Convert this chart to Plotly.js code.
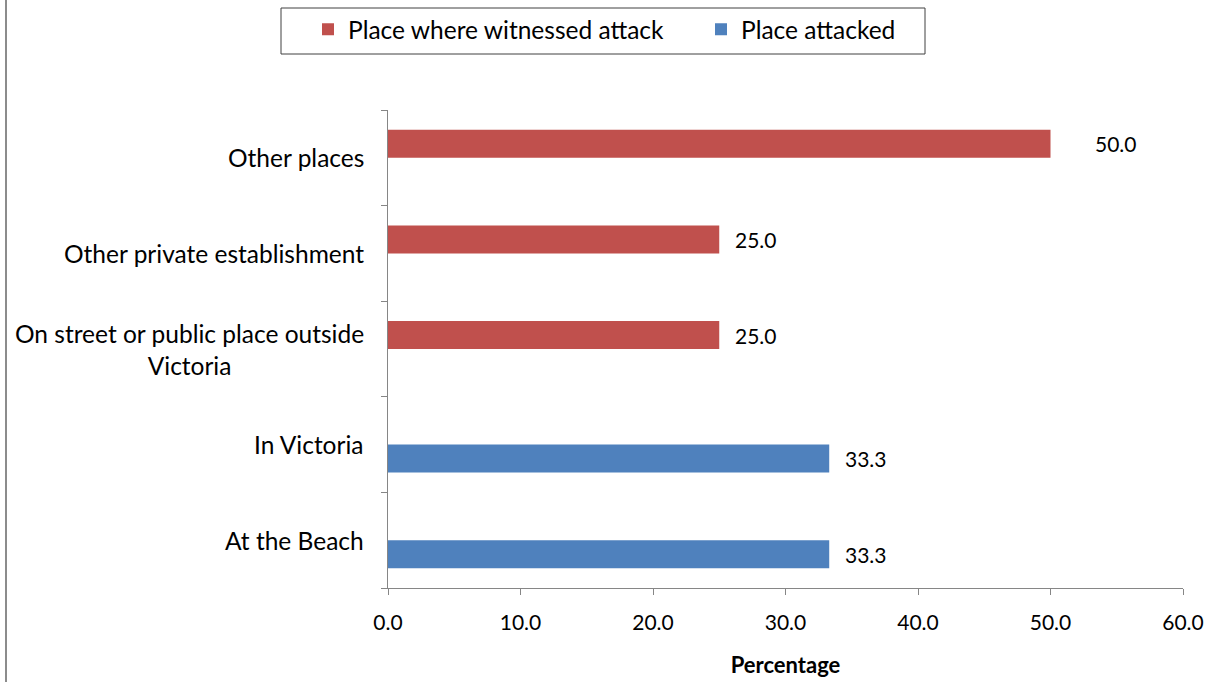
<!DOCTYPE html>
<html>
<head>
<meta charset="utf-8">
<script src="https://cdn.plot.ly/plotly-3.0.1.min.js"></script>
<style>
  html, body { margin: 0; padding: 0; background: #fff; }
  #wrap { position: relative; width: 1216px; height: 682px; }
  #frame { position: absolute; left: 5px; top: 0; width: 2px; height: 682px; background: #8c8c8c; z-index: 5; }
  #chart { width: 1216px; height: 682px; }
</style>
</head>
<body>
<div id="wrap"><div id="frame"></div><div id="chart"></div></div>
<script>
// Categories, bottom to top
const categories = ["At the Beach", "In Victoria", "On street or public place outside Victoria", "Other private establishment", "Other places"];
const categoryLabels = ["At the Beach", "In Victoria", "On street or public place outside<br>Victoria", "Other private establishment", "Other places"];

// Series: Place attacked
const attackedCats = ["At the Beach", "In Victoria"];
const attackedVals = [33.3, 33.3];

// Series: Place where witnessed attack
const witnessedCats = ["On street or public place outside Victoria", "Other private establishment", "Other places"];
const witnessedVals = [25.0, 25.0, 50.0];

const xTicks = [0, 10, 20, 30, 40, 50, 60];

const FONT = "Lato, 'Open Sans', sans-serif";
const BARW = 0.293;

const W = 1216, H = 682;
const M = {l: 388, r: 33, t: 110, b: 94};
const pw = W - M.l - M.r, ph = H - M.t - M.b;
const px2paperX = p => (p - M.l) / pw;
const px2paperY = p => (H - M.b - p) / ph;

const traces = [
  {
    type: 'bar', orientation: 'h', name: 'Place attacked',
    x: attackedVals, y: attackedCats,
    width: BARW, offset: -BARW,
    marker: {color: '#4F81BD', line: {width: 0}},
    legendrank: 2
  },
  {
    type: 'bar', orientation: 'h', name: 'Place where witnessed attack',
    x: witnessedVals, y: witnessedCats,
    width: BARW, offset: 0,
    marker: {color: '#C0504D', line: {width: 0}},
    legendrank: 1
  }
];

const catAnnotations = categories.map((c, i) => ({
  xref: 'paper', yref: 'y', x: 0, y: c,
  xanchor: 'right', yanchor: 'middle', xshift: -22,
  text: categoryLabels[i], showarrow: false, align: 'center',
  font: {family: FONT, size: 24.5, color: '#000'}
}));

const valueAnnotations = [];
attackedCats.forEach((c, i) => valueAnnotations.push({
  xref: 'x', yref: 'y', x: attackedVals[i], y: c, xanchor: 'left', yanchor: 'middle',
  xshift: 14, yshift: -14, showarrow: false, text: attackedVals[i].toFixed(1),
  font: {family: FONT, size: 21, color: '#000'}
}));
witnessedCats.forEach((c, i) => valueAnnotations.push({
  xref: 'x', yref: 'y', x: witnessedVals[i], y: c, xanchor: 'left', yanchor: 'middle',
  xshift: witnessedVals[i] >= 50 ? 42 : 14, yshift: 14, showarrow: false, text: witnessedVals[i].toFixed(1),
  font: {family: FONT, size: 21, color: '#000'}
}));

const layout = {
  width: W, height: H,
  margin: M,
  paper_bgcolor: '#fff', plot_bgcolor: '#fff',
  font: {family: FONT, size: 20, color: '#000'},
  barmode: 'overlay',
  showlegend: true,
  legend: {
    orientation: 'h', xref: 'container', yref: 'container',
    x: 308 / W, xanchor: 'left', y: 0.99, yanchor: 'top',
    borderwidth: 0, bgcolor: 'rgba(0,0,0,0)',
    font: {family: FONT, size: 24.5, color: '#000'},
    traceorder: 'normal', entrywidth: 348, entrywidthmode: 'pixels'
  },
  shapes: [{
    type: 'rect', xref: 'paper', yref: 'paper', layer: 'below',
    x0: px2paperX(281), x1: px2paperX(925), y0: px2paperY(54), y1: px2paperY(8),
    line: {color: '#404040', width: 1}, fillcolor: 'rgba(0,0,0,0)'
  }],
  xaxis: {
    range: [0, 60], tickvals: xTicks, ticktext: xTicks.map(v => v.toFixed(1)),
    showgrid: false, zeroline: false,
    showline: true, linecolor: '#868686', linewidth: 1,
    ticks: 'outside', ticklen: 6, tickcolor: '#868686',
    ticklabelstandoff: 10,
    tickfont: {family: FONT, size: 21, color: '#000'},
    title: {text: '<b>Percentage</b>', standoff: 24, font: {family: FONT, size: 22, color: '#000'}}
  },
  yaxis: {
    type: 'category', categoryorder: 'array', categoryarray: categories,
    range: [-0.5, categories.length - 0.5],
    showgrid: false, zeroline: false,
    showline: true, linecolor: '#868686', linewidth: 1,
    ticks: 'outside', ticklen: 6, tickcolor: '#868686', tickson: 'boundaries',
    showticklabels: false
  },
  annotations: catAnnotations.concat(valueAnnotations)
};

Plotly.newPlot('chart', traces, layout, {displayModeBar: false, staticPlot: true});
</script>
</body>
</html>
